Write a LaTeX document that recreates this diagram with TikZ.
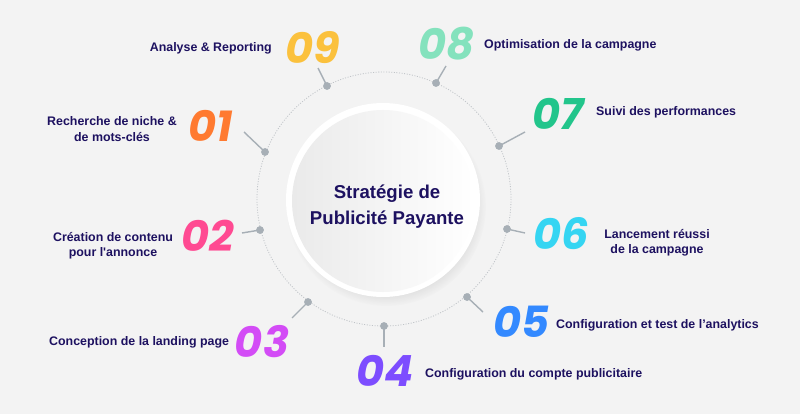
\documentclass[tikz,border=0pt]{standalone}
\usepackage{fontspec}
\setmainfont{Liberation Sans}
\newfontfamily\numfont{Poppins}
\usetikzlibrary{shadows}
\definecolor{bg}{HTML}{F3F3F3}
\definecolor{navy}{HTML}{1D1160}
\definecolor{orbit}{HTML}{BFC3C7}
\definecolor{dotc}{HTML}{A7AFB6}
\definecolor{cA}{HTML}{FF7A30}
\definecolor{cB}{HTML}{FF4A92}
\definecolor{cC}{HTML}{D34CF6}
\definecolor{cD}{HTML}{7D4DFF}
\definecolor{cE}{HTML}{3389FF}
\definecolor{cF}{HTML}{35D5F2}
\definecolor{cG}{HTML}{22C58B}
\definecolor{cH}{HTML}{84E2BD}
\definecolor{cI}{HTML}{FBC13D}
\definecolor{shadeg}{HTML}{EAEAEA}
\begin{document}
\begin{tikzpicture}[x=1pt,y=-1pt,
  numstyle/.style={inner sep=0pt,anchor=center,font=\numfont\bfseries\itshape\fontsize{43}{43}\selectfont},
  lblstyle/.style={inner sep=0pt,text=navy,font=\bfseries\fontsize{12.4}{15}\selectfont},
  dotstyle/.style={circle,fill=dotc,inner sep=0pt,minimum size=7.5pt},
  tickstyle/.style={draw=dotc,line width=1.4pt},
  orbitstyle/.style={draw=orbit,line width=0.8pt,dash pattern=on 1pt off 1.6pt}
]
\useasboundingbox[fill=bg] (0,0) rectangle (800,414);
% orbit
\draw[orbitstyle] (384,199) circle[radius=127];
% central disc
\node (core) [circle,minimum size=194pt,inner sep=0pt,fill=white,
  circular drop shadow={shadow xshift=3pt,shadow yshift=-6pt,opacity=0.2,shadow scale=1.03}] at (383,200) {};
\node (inner) [circle,minimum size=182pt,inner sep=0pt,left color=shadeg,right color=white] at (383,201) {};
\node (t1) [inner sep=0pt,text=navy,font=\bfseries\fontsize{18.6}{26}\selectfont,anchor=base] at (387,198) {Stratégie de};
\node (t2) [inner sep=0pt,text=navy,font=\bfseries\fontsize{18.6}{26}\selectfont,anchor=base] at (387,224) {Publicité Payante};
% dots
\node (d9) [dotstyle] at (327,86) {};
\node (d1) [dotstyle] at (265,152) {};
\node (d2) [dotstyle] at (260,230) {};
\node (d3) [dotstyle] at (308,302) {};
\node (d4) [dotstyle] at (384,326) {};
\node (d5) [dotstyle] at (467,297) {};
\node (d6) [dotstyle] at (507,229) {};
\node (d7) [dotstyle] at (499,146) {};
\node (d8) [dotstyle] at (436,83) {};
% tick ends
\coordinate (e9) at (318,68);
\coordinate (e1) at (244,132);
\coordinate (e2) at (242,233);
\coordinate (e3) at (292,318);
\coordinate (e4) at (384,347);
\coordinate (e5) at (483,312);
\coordinate (e6) at (525,233);
\coordinate (e7) at (525,132);
\coordinate (e8) at (446,66);
\foreach \i in {1,...,9} {\draw[tickstyle] (d\i.center) -- (e\i);}
\foreach \i in {1,...,9} {\node[dotstyle] at (d\i) {};}
% numbers
\node (n9) [numstyle,text=cI] at (313,48) {09};
\node (n1) [numstyle,text=cA] at (211,126) {01};
\node (n2) [numstyle,text=cB] at (208,236) {02};
\node (n3) [numstyle,text=cC] at (262,342) {03};
\node (n4) [numstyle,text=cD] at (385,371) {04};
\node (n5) [numstyle,text=cE] at (521,322) {05};
\node (n6) [numstyle,text=cF] at (561,234) {06};
\node (n7) [numstyle,text=cG] at (558,114) {07};
\node (n8) [numstyle,text=cH] at (446,44) {08};
% labels
\node (l9) [lblstyle,anchor=base east] at (272,52) {Analyse \& Reporting};
\node (l1a) [lblstyle,anchor=base] at (112,126) {Recherche de niche \&};
\node (l1b) [lblstyle,anchor=base] at (112,142) {de mots-clés};
\node (l2a) [lblstyle,anchor=base] at (113,241) {Création de contenu};
\node (l2b) [lblstyle,anchor=base] at (113,256) {pour l\textquotesingle annonce};
\node (l3) [lblstyle,anchor=base west] at (49,345) {Conception de la landing page};
\node (l4) [lblstyle,anchor=base west] at (425,377) {Configuration du compte publicitaire};
\node (l5) [lblstyle,anchor=base west] at (556,328) {Configuration et test de l'analytics};
\node (l6a) [lblstyle,anchor=base] at (657,238) {Lancement réussi};
\node (l6b) [lblstyle,anchor=base] at (657,253) {de la campagne};
\node (l7) [lblstyle,anchor=base west] at (596,116) {Suivi des performances};
\node (l8) [lblstyle,anchor=base west] at (484,49) {Optimisation de la campagne};
\end{tikzpicture}
\end{document}
